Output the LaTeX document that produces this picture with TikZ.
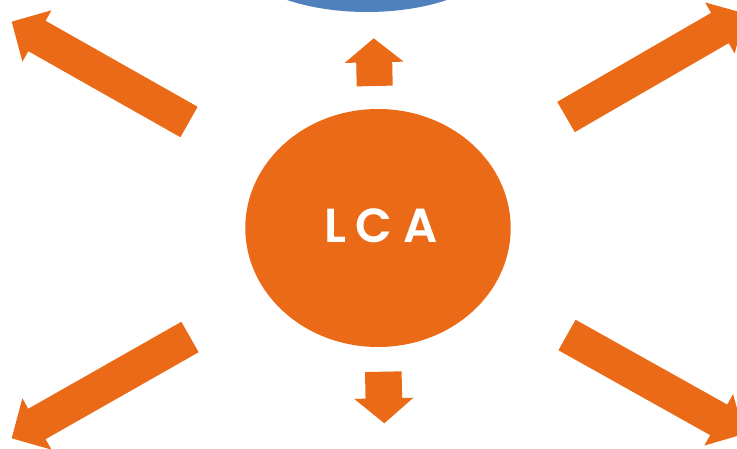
\documentclass[tikz,border=0pt]{standalone}
\usepackage{fontspec}
\newfontfamily\lcafont{Poppins}[BoldFont={Poppins SemiBold}]
\usetikzlibrary{calc,shapes.geometric}
\definecolor{lcaorange}{RGB}{234,106,23}
\definecolor{lcablue}{RGB}{79,129,189}
\tikzset{
  hub/.style={ellipse,fill=lcaorange,inner sep=0pt},
  blockarrow/.style={fill=lcaorange}
}
% tail, tip, half shaft, half head, head length
\newcommand\blockarr[5]{
  \coordinate (#1#2) at ($(#2)!#5!(#1)$);
  \fill[blockarrow] ($(#1)!#3!90:(#2)$) -- ($(#1#2)!#3!90:(#2)$)
    -- ($(#1#2)!#4!90:(#2)$) -- (#2) -- ($(#1#2)!#4!-90:(#2)$)
    -- ($(#1#2)!#3!-90:(#2)$) -- ($(#1)!#3!-90:(#2)$) -- cycle;
}
\begin{document}
\begin{tikzpicture}[x=1bp,y=-1bp]
        \useasboundingbox (0,0) rectangle (737,449);
        \clip (0,0) rectangle (737,449);
        \node[hub,fill=lcablue,minimum width=280bp,minimum height=134bp] (next) at (367,-55) {};
        \node[hub,minimum width=265.4bp,minimum height=238bp] (lca) at (378,228) {};
        \node[anchor=base,text=white,inner sep=0pt,font=\lcafont\bfseries\fontsize{48}{48}\selectfont]
          (lcatext) at (381,242.3) {L\hspace{10bp}C\hspace{11bp}A};
        \coordinate (t1) at (189,122);   \coordinate (p1) at (11.7,21.7);
        \coordinate (t2) at (566,117);   \coordinate (p2) at (745,13.5);
        \coordinate (t3) at (190,337);   \coordinate (p3) at (11.7,438.3);
        \coordinate (t4) at (567,335);   \coordinate (p4) at (744,434);
        \coordinate (t5) at (374.7,86);  \coordinate (p5) at (373.7,38.3);
        \coordinate (t6) at (383.3,371.7); \coordinate (p6) at (384.3,423.3);
        \blockarr{t1}{p1}{17.5bp}{29.5bp}{29bp}
        \blockarr{t2}{p2}{17.5bp}{29.5bp}{29bp}
        \blockarr{t3}{p3}{17.5bp}{29.5bp}{29bp}
        \blockarr{t4}{p4}{17.5bp}{29.5bp}{29bp}
        \blockarr{t5}{p5}{18bp}{29.5bp}{24bp}
        \blockarr{t6}{p6}{18.3bp}{29.6bp}{25bp}
      \end{tikzpicture}
\end{document}
